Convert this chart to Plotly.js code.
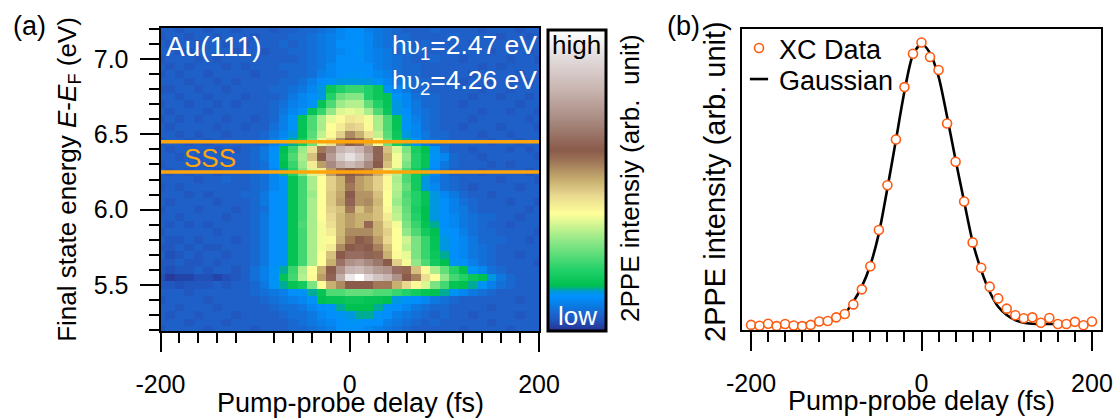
<!DOCTYPE html>
<html><head><meta charset="utf-8">
<script src="https://cdn.plot.ly/plotly-3.0.1.min.js"></script>
<style>html,body{margin:0;padding:0;background:#fff}</style></head>
<body><div id="chart" style="width:1115px;height:418px"></div>
<script>
const delays = [-200,-190,-180,-170,-160,-150,-140,-130,-120,-110,-100,-90,-80,-70,-60,-50,-40,-30,-20,-10,0,10,20,30,40,50,60,70,80,90,100,110,120,130,140,150,160,170,180,190,200];
const energies = [7.2,7.15,7.1,7.05,7.0,6.95,6.9,6.85,6.8,6.75,6.7,6.65,6.6,6.55,6.5,6.45,6.4,6.35,6.3,6.25,6.2,6.15,6.1,6.05,6.0,5.95,5.9,5.85,5.8,5.75,5.7,5.65,5.6,5.55,5.5,5.45,5.4,5.35,5.3,5.25,5.2];
const intensity = [
[5,5,4,5,5,4,5,5,4,5, 5,5,4,5,5,6,6,7,8,10, 11, 11,9,8,7,6,5,5,5,6,5, 5,5,5,4,5,5,5,4,5,5],
[4,5,5,4,5,5,4,5,5,5, 4,5,5,5,6,6,7,8,9,10, 11, 11,10,8,7,6,6,5,5,5,5, 6,5,5,5,5,4,5,5,4,5],
[5,4,5,5,4,5,5,4,5,4, 5,5,5,6,5,6,7,8,9,11, 11, 11,10,8,7,7,6,5,6,5,5, 5,5,4,5,5,5,4,5,5,5],
[5,5,4,4,5,5,5,5,4,5, 5,4,5,5,6,6,7,8,9,10, 11, 12,10,9,8,6,6,6,5,5,5, 5,5,5,5,4,5,5,5,4,5],
[4,5,5,5,4,5,4,5,5,5, 5,5,5,5,5,6,7,8,9,11, 11, 11,10,9,8,7,6,5,5,6,5, 5,4,5,5,5,5,4,5,5,4],
[5,4,5,4,5,5,5,4,5,4, 5,5,5,6,6,6,7,8,10,11, 11, 11,11,9,8,7,6,6,5,5,5, 5,5,5,4,5,4,5,5,5,5],
[4,5,4,5,5,4,5,5,5,5, 4,5,5,5,6,6,7,9,10,11, 12, 12,11,10,9,7,6,6,5,5,5, 5,5,4,5,5,5,5,4,5,5],
[5,5,5,4,5,5,4,5,4,5, 5,5,5,6,6,7,9,11,12,13, 13, 13,13,12,10,8,7,6,6,5,5, 5,4,5,5,4,5,5,5,4,5],
[4,4,5,5,4,5,5,4,5,5, 5,5,6,6,7,8,10,13,17,20, 22, 22,20,17,12,10,8,6,6,5,5, 5,5,5,4,5,5,4,5,5,5],
[5,5,4,5,5,4,5,5,5,4, 5,5,5,6,8,10,11,13,20,27, 29, 29,20,17,16,12,10,7,6,6,5, 5,5,4,5,5,4,5,5,4,5],
[4,5,5,4,5,5,4,5,4,5, 5,5,6,7,9,10,12,16,24,31, 33, 33,26,20,16,13,10,8,6,6,5, 5,4,5,5,5,5,5,4,5,5],
[5,4,5,5,5,4,5,5,5,5, 5,5,6,8,10,12,16,22,30,36, 37, 36,32,24,17,13,11,8,7,6,5, 5,5,5,4,5,5,4,5,5,4],
[4,5,4,5,4,5,5,4,5,5, 4,5,6,9,12,16,24,32,37,40, 43, 42,38,32,24,16,12,9,7,6,5, 5,5,4,5,5,5,5,5,4,5],
[5,4,5,5,5,5,4,5,5,4, 5,5,7,9,12,16,24,32,39,42, 46, 45,40,32,24,16,12,10,7,6,5, 5,4,5,5,5,4,5,5,5,4],
[5,5,4,5,4,5,5,4,5,5, 5,6,8,10,13,16,25,34,40,46, 54, 50,44,34,25,17,13,10,8,6,6, 5,5,5,4,5,5,4,5,5,5],
[4,5,5,4,5,4,5,5,5,5, 5,6,9,12,14,18,27,37,44,54, 60, 58,50,38,27,18,14,12,8,7,6, 5,5,5,5,4,5,5,4,5,5],
[5,4,5,5,5,5,4,5,4,5, 6,8,11,15,22,31,44,56,70,80, 84, 80,72,62,48,36,28,19,15,12,7, 5,5,4,5,5,5,4,5,4,5],
[5,5,4,5,4,5,5,4,5,5, 6,8,12,16,24,32,48,60,74,86, 92, 86,76,62,50,38,30,20,16,12,10, 6,5,5,4,5,5,5,5,5,4],
[4,5,5,5,5,4,5,5,5,5, 6,7,11,15,22,31,42,52,70,78, 82, 78,70,60,48,38,28,20,16,11,8, 6,5,5,5,4,5,4,5,5,5],
[5,4,5,4,5,5,4,5,5,5, 6,7,10,14,20,29,36,42,52,58, 60, 58,56,50,42,33,24,18,14,10,7, 5,5,5,4,5,5,5,5,4,5],
[5,5,5,5,4,5,5,6,5,5, 6,7,10,12,16,23,32,39,46,50, 58, 52,50,46,40,32,24,18,13,9,7, 6,5,5,5,5,4,5,5,5,4],
[4,5,4,5,5,5,5,5,5,5, 6,7,10,12,16,23,32,39,46,50, 56, 52,50,46,40,33,26,18,13,10,7, 6,5,4,5,5,5,5,4,5,5],
[5,5,5,4,5,4,5,5,5,6, 6,8,11,12,16,23,31,39,47,51, 60, 53,53,48,39,32,24,20,16,13,10, 8,6,5,5,4,5,5,5,5,5],
[5,4,5,5,5,5,4,5,5,5, 6,8,11,12,16,23,32,39,47,52, 62, 53,54,49,39,31,25,20,16,13,11, 9,7,6,5,5,5,4,5,5,4],
[4,5,5,5,4,5,5,5,4,5, 6,7,11,12,16,23,32,39,46,48, 56, 48,52,48,40,33,26,19,15,13,11, 9,8,6,5,5,5,5,5,4,5],
[5,5,4,5,5,5,5,4,5,5, 6,8,11,12,16,23,32,39,45,49, 52, 50,50,48,42,34,27,20,15,13,11, 10,8,7,6,6,5,5,4,5,5],
[5,4,5,4,5,4,5,5,5,5, 6,8,11,12,16,24,32,38,44,49, 52, 50,58,50,44,38,28,22,16,14,11, 10,8,7,6,5,5,4,5,5,5],
[4,5,5,5,5,5,4,5,5,5, 6,8,11,12,16,23,32,38,42,49, 54, 54,54,50,46,39,30,24,18,15,12, 11,9,7,6,6,5,5,5,5,4],
[5,4,4,5,4,5,5,5,4,5, 6,8,11,12,16,23,32,38,40,50, 56, 60,58,52,45,39,35,28,22,16,13, 11,10,8,6,6,6,5,5,4,5],
[4,4,5,4,5,4,4,5,5,5, 6,8,11,12,16,23,32,38,42,54, 60, 62,60,55,48,39,34,28,22,16,13, 11,10,8,7,6,5,5,5,5,5],
[5,3,4,5,4,5,5,4,5,5, 6,8,11,12,16,23,32,39,48,60, 64, 64,62,58,50,40,37,28,22,17,14, 11,10,8,7,6,5,5,4,5,5],
[4,4,5,4,4,5,4,5,5,5, 6,8,11,12,16,23,32,39,50,65, 72, 74,70,66,60,46,38,30,24,18,15, 12,11,9,7,6,5,5,5,5,4],
[4,3,4,4,5,4,5,5,4,5, 7,9,12,14,22,32,39,50,60,72, 80, 82,78,74,72,64,58,48,40,32,26, 20,15,12,10,7,6,5,5,5,5],
[3,1,2,2,3,3,2,3,4,5, 7,9,12,16,23,33,40,52,62,78, 94, 100,90,84,80,72,60,55,44,39,30, 23,20,17,15,13,8,6,5,5,5],
[4,4,3,4,4,4,5,4,5,5, 6,8,12,14,16,18,28,39,50,54, 60, 60,60,56,56,50,45,40,36,28,23, 16,15,14,12,9,7,6,5,5,5],
[5,5,5,4,5,5,5,5,5,5, 6,7,8,9,11,12,14,16,24,24, 26, 26,26,24,24,22,20,18,16,15,14, 12,10,8,7,6,5,5,5,5,5],
[4,5,5,5,5,4,5,5,5,5, 5,6,7,8,9,10,12,15,16,16, 17, 17,16,16,15,13,12,11,10,8,7, 6,5,5,5,5,5,5,4,5,5],
[5,5,4,5,5,5,4,5,5,5, 5,5,6,7,7,8,10,11,12,14, 15, 15,15,14,12,11,10,8,7,6,6, 5,5,5,5,4,5,5,5,5,5],
[5,4,5,5,4,5,5,5,4,5, 5,5,5,6,7,7,8,10,11,12, 13, 14,14,12,11,9,8,7,6,5,6, 5,5,4,5,5,5,5,4,5,5],
[5,5,5,4,5,5,5,4,5,5, 5,5,5,5,6,7,8,9,10,11, 12, 12,11,11,9,8,7,6,5,6,5, 5,5,5,5,4,5,5,5,5,5],
[4,5,5,5,5,4,5,5,5,5, 4,5,5,5,6,6,7,8,9,11, 11, 11,10,9,8,7,6,5,5,5,5, 5,4,5,5,5,5,4,5,5,5]
];
const palette = [[0,"#2a2f8f"],[0.03,"#2050b8"],[0.05,"#1f60c8"],[0.08,"#0c78e0"],[0.115,"#0092ff"],[0.13,"#0096e0"],[0.15,"#00c050"],[0.2,"#20d068"],[0.3,"#90e888"],[0.39,"#ffff99"],[0.45,"#e8d890"],[0.5,"#c8b070"],[0.56,"#a07858"],[0.6,"#8a5a4a"],[0.7,"#a88a80"],[0.8,"#c8b4b0"],[0.9,"#e0d8d8"],[1,"#ffffff"]];
const sssBounds = [6.45,6.25];
const sssEdge = [-200,200];
const xcDelay = delays;
const xcData = [.017,.014,.021,.013,.020,.015,.013,.017,.028,.030,.042,.053,.085,.135,.212,.332,.481,.633,.807,.918,.955,.907,.864,.686,.559,.427,.291,.207,.144,.105,.071,.049,.039,.042,.024,.040,.020,.020,.027,.016,.028];
const gaussianData = [.020,.020,.020,.020,.020,.020,.021,.022,.024,.029,.039,.055,.094,.144,.216,.321,.471,.631,.792,.914,.950,.920,.842,.709,.565,.427,.293,.199,.127,.077,.050,.033,.024,.021,.020,.020,.020,.020,.020,.020,.020];

const W=1115,H=418, f='"Liberation Sans", Arial, sans-serif', TF=25, LF=27;
const px=(a,b)=>[a/W,b/W], py=(top,bot)=>[(H-bot)/H,(H-top)/H];
const xTick = {ticks:'outside',ticklen:19,tickwidth:2,tickcolor:'#000',linecolor:'#000',linewidth:2,mirror:true,showgrid:false,zeroline:false,
  tickmode:'array',tickvals:[-200,0,200],ticktext:['-200','0','200'],ticklabelstandoff:11,tickfont:{family:f,size:TF,color:'#000'},
  minor:{tickmode:'array',tickvals:[-180,-160,-140,-120,-80,-60,-40,-20,20,40,60,80,120,140,160,180],ticks:'outside',ticklen:10,tickwidth:2,tickcolor:'#000',showgrid:false}};
const medium = {ticks:'outside',ticklen:14,tickwidth:2,tickcolor:'#000',showline:false,showgrid:false,zeroline:false,tickmode:'array',tickvals:[-100,100],showticklabels:false};
const note=(x,y,text,size,color,extra)=>Object.assign({xref:'paper',yref:'paper',x:x/W,y:(H-y)/H,text,showarrow:false,xanchor:'left',yanchor:'middle',font:{family:f,size,color}},extra||{});
const upsilon='<span style="font-family:Liberation Serif">\u03c5</span>';

const traces = [
 {type:'heatmap',x:delays,y:energies,z:intensity,xaxis:'x',yaxis:'y',zmin:0,zmax:100,zsmooth:false,colorscale:palette,showlegend:false,
  colorbar:{x:548/W,xanchor:'left',xpad:0,ypad:0,y:(H-331)/H,yanchor:'bottom',len:301/H,lenmode:'fraction',thickness:58,thicknessmode:'pixels',outlinewidth:3,outlinecolor:'#000',borderwidth:0,showticklabels:false,ticks:''}},
 {type:'scatter',mode:'lines',x:sssEdge,y:[sssBounds[0],sssBounds[0]],xaxis:'x',yaxis:'y',line:{color:'#ffa50a',width:3.5},showlegend:false},
 {type:'scatter',mode:'lines',x:sssEdge,y:[sssBounds[1],sssBounds[1]],xaxis:'x',yaxis:'y',line:{color:'#ffa50a',width:3.5},showlegend:false},
 {type:'scatter',mode:'lines',x:xcDelay,y:gaussianData,xaxis:'x2',yaxis:'y2',line:{color:'#000',width:2.6,shape:'spline',smoothing:0.8},showlegend:false,name:'Gaussian fit'},
 {type:'scatter',mode:'markers',x:xcDelay,y:xcData,xaxis:'x2',yaxis:'y2',name:'XC Data',legend:'legend',marker:{symbol:'circle',size:9,color:'#fff',line:{color:'#ff5a10',width:1.6}}},
 {type:'scatter',mode:'markers',x:[null],y:[null],xaxis:'x2',yaxis:'y2',name:'Gaussian',legend:'legend2',showlegend:true,marker:{symbol:'line-ew',size:13,color:'#000',line:{color:'#000',width:2.6}}}
];
const lg=(top)=>({x:739/W,y:(H-top)/H,xanchor:'left',yanchor:'top',bgcolor:'rgba(0,0,0,0)',borderwidth:0,font:{family:f,size:LF},itemwidth:30});
const layout = {
 width:W,height:H,margin:{l:0,r:0,t:0,b:0},paper_bgcolor:'#fff',plot_bgcolor:'#fff',font:{family:f,size:TF,color:'#000'},showlegend:true,
 xaxis:Object.assign({},xTick,{domain:px(160.5,539),range:[-200,200],anchor:'y'}),
 yaxis:{domain:py(28,331),range:[5.195,7.205],anchor:'x',ticks:'outside',ticklen:19,tickwidth:2,tickcolor:'#000',linecolor:'#000',linewidth:2,mirror:true,showgrid:false,zeroline:false,
  tickmode:'array',tickvals:[5.5,6,6.5,7],ticktext:['5.5','6.0','6.5','7.0'],ticklabelstandoff:6,tickfont:{family:f,size:TF,color:'#000'},
  minor:{tickmode:'array',tickvals:[5.2,5.3,5.4,5.6,5.7,5.8,5.9,6.1,6.2,6.3,6.4,6.6,6.7,6.8,6.9,7.1,7.2],ticks:'outside',ticklen:10,tickwidth:2,tickcolor:'#000',showgrid:false},
  title:{text:'Final state energy <i>E</i>-<i>E</i><sub>F</sub> (eV)',font:{family:f,size:26},standoff:10}},
 xaxis3:Object.assign({},medium,{overlaying:'x',anchor:'y',range:[-200,200],domain:px(160.5,539)}),
 xaxis2:Object.assign({},xTick,{domain:px(742,1101),range:[-210.6,210.6],anchor:'y2'}),
 xaxis4:Object.assign({},medium,{overlaying:'x2',anchor:'y2',range:[-210.6,210.6],domain:px(742,1101)}),
 yaxis2:{domain:py(29,330),range:[0,1],anchor:'x2',linecolor:'#000',linewidth:2,mirror:true,showgrid:false,zeroline:false,showticklabels:false,ticks:''},
 legend:lg(24),
 legend2:lg(55),
 annotations:[
  note(11,26,'(a)',LF,'#000'),
  note(665,26,'(b)',LF,'#000'),
  note(164,47,'Au(111)',28,'#fff'),
  note(539,47,'h'+upsilon+'<sub>1</sub>=2.47 eV',26.5,'#fff',{xanchor:'right'}),
  note(539,82,'h'+upsilon+'<sub>2</sub>=4.26 eV',26.5,'#fff',{xanchor:'right'}),
  note(182,158,'SSS',26,'#ffa50a'),
  note(576,45,'high',26,'#000',{xanchor:'center'}),
  note(577,316,'low',26,'#fff',{xanchor:'center'}),
  note(630,178,'2PPE intensiy (arb.  unit)',26,'#000',{xanchor:'center',textangle:-90}),
  note(350,403,'Pump-probe delay (fs)',LF,'#000',{xanchor:'center'}),
  note(921.5,401,'Pump-probe delay (fs)',LF,'#000',{xanchor:'center'}),
  note(715,182,'2PPE intensity (arb. unit)',29,'#000',{xanchor:'center',textangle:-90})
 ]
};
Plotly.newPlot('chart',traces,layout,{displayModeBar:false,staticPlot:true});
</script></body></html>
